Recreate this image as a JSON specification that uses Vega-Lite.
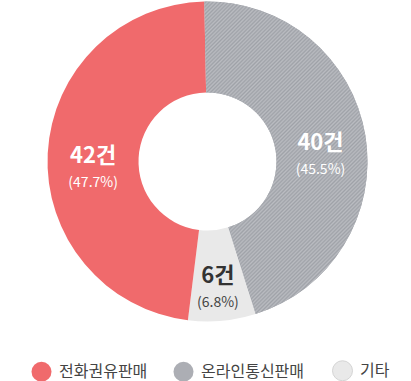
{
  "$schema": "https://vega.github.io/schema/vega-lite/v6.json",
  "width": 411,
  "height": 323,
  "padding": {"left": 2, "top": 0, "right": 0, "bottom": 0},
  "background": "white",
  "config": {"view": {"stroke": null}, "font": "Noto Sans CJK KR"},
  "data": {"values": [
    {"type": "온라인통신판매", "count": 40, "pct": "(45.5%)", "label": "40건", "ord": 1},
    {"type": "기타", "count": 6, "pct": "(6.8%)", "label": "6건", "ord": 2},
    {"type": "전화권유판매", "count": 42, "pct": "(47.7%)", "label": "42건", "ord": 3}
  ]},
  "encoding": {
    "theta": {"field": "count", "type": "quantitative", "stack": true, "scale": {"range": [-0.02, 6.2632]}},
    "order": {"field": "ord", "type": "quantitative"}
  },
  "layer": [
    {
      "mark": {"type": "arc", "outerRadius": 160, "innerRadius": 69},
      "encoding": {
        "color": {
          "field": "type", "type": "nominal",
          "scale": {"domain": ["전화권유판매", "온라인통신판매", "기타"], "range": ["#f06a6c", "#acaeb4", "#e9e9e9"]},
          "legend": {
            "title": null, "orient": "none", "direction": "horizontal",
            "legendX": 29, "legendY": 360,
            "symbolType": "circle", "symbolSize": 400,
            "labelFontSize": 16, "labelColor": "#444", "labelOffset": 7,
            "columnPadding": 25, "labelFont": "Noto Sans CJK KR",
            "encode": {"symbols": {"update": {
              "stroke": {"signal": "datum.value === '기타' ? '#d4d4d4' : null"},
              "strokeWidth": {"value": 1},
              "fill": [
                {"test": "datum.value === '온라인통신판매'", "value": {"gradient": "linear", "x1": 0, "y1": 0, "x2": 1, "y2": 1, "stops": [
                  {"offset":0.00,"color":"#babcc1"},{"offset":0.05,"color":"#9fa2a8"},{"offset":0.10,"color":"#babcc1"},{"offset":0.15,"color":"#9fa2a8"},{"offset":0.20,"color":"#babcc1"},{"offset":0.25,"color":"#9fa2a8"},{"offset":0.30,"color":"#babcc1"},{"offset":0.35,"color":"#9fa2a8"},{"offset":0.40,"color":"#babcc1"},{"offset":0.45,"color":"#9fa2a8"},{"offset":0.50,"color":"#babcc1"},{"offset":0.55,"color":"#9fa2a8"},{"offset":0.60,"color":"#babcc1"},{"offset":0.65,"color":"#9fa2a8"},{"offset":0.70,"color":"#babcc1"},{"offset":0.75,"color":"#9fa2a8"},{"offset":0.80,"color":"#babcc1"},{"offset":0.85,"color":"#9fa2a8"},{"offset":0.90,"color":"#babcc1"},{"offset":0.95,"color":"#9fa2a8"},{"offset":1.00,"color":"#babcc1"}
                ]}},
                {"scale": "color", "field": "value"}
              ]
            }}}
          }
        }
      }
    },
    {
      "mark": {"type": "arc", "outerRadius": 160, "innerRadius": 69},
      "encoding": {
        "fill": {
          "condition": {
            "test": "datum.type === '온라인통신판매'",
            "value": {
              "gradient": "linear", "x1": 0, "y1": 0, "x2": 0.6237, "y2": 1.196,
              "stops": [
{"offset":0.000,"color":"#babcc1"},{"offset":0.004,"color":"#9fa2a8"},{"offset":0.008,"color":"#babcc1"},{"offset":0.012,"color":"#9fa2a8"},{"offset":0.016,"color":"#babcc1"},{"offset":0.020,"color":"#9fa2a8"},{"offset":0.024,"color":"#babcc1"},{"offset":0.028,"color":"#9fa2a8"},{"offset":0.032,"color":"#babcc1"},{"offset":0.036,"color":"#9fa2a8"},
{"offset":0.040,"color":"#babcc1"},{"offset":0.044,"color":"#9fa2a8"},{"offset":0.048,"color":"#babcc1"},{"offset":0.052,"color":"#9fa2a8"},{"offset":0.056,"color":"#babcc1"},{"offset":0.060,"color":"#9fa2a8"},{"offset":0.064,"color":"#babcc1"},{"offset":0.068,"color":"#9fa2a8"},{"offset":0.072,"color":"#babcc1"},{"offset":0.076,"color":"#9fa2a8"},
{"offset":0.080,"color":"#babcc1"},{"offset":0.084,"color":"#9fa2a8"},{"offset":0.088,"color":"#babcc1"},{"offset":0.092,"color":"#9fa2a8"},{"offset":0.096,"color":"#babcc1"},{"offset":0.100,"color":"#9fa2a8"},{"offset":0.104,"color":"#babcc1"},{"offset":0.108,"color":"#9fa2a8"},{"offset":0.112,"color":"#babcc1"},{"offset":0.116,"color":"#9fa2a8"},
{"offset":0.120,"color":"#babcc1"},{"offset":0.124,"color":"#9fa2a8"},{"offset":0.128,"color":"#babcc1"},{"offset":0.132,"color":"#9fa2a8"},{"offset":0.136,"color":"#babcc1"},{"offset":0.140,"color":"#9fa2a8"},{"offset":0.144,"color":"#babcc1"},{"offset":0.148,"color":"#9fa2a8"},{"offset":0.152,"color":"#babcc1"},{"offset":0.156,"color":"#9fa2a8"},
{"offset":0.160,"color":"#babcc1"},{"offset":0.164,"color":"#9fa2a8"},{"offset":0.168,"color":"#babcc1"},{"offset":0.172,"color":"#9fa2a8"},{"offset":0.176,"color":"#babcc1"},{"offset":0.180,"color":"#9fa2a8"},{"offset":0.184,"color":"#babcc1"},{"offset":0.188,"color":"#9fa2a8"},{"offset":0.192,"color":"#babcc1"},{"offset":0.196,"color":"#9fa2a8"},
{"offset":0.200,"color":"#babcc1"},{"offset":0.204,"color":"#9fa2a8"},{"offset":0.208,"color":"#babcc1"},{"offset":0.212,"color":"#9fa2a8"},{"offset":0.216,"color":"#babcc1"},{"offset":0.220,"color":"#9fa2a8"},{"offset":0.224,"color":"#babcc1"},{"offset":0.228,"color":"#9fa2a8"},{"offset":0.232,"color":"#babcc1"},{"offset":0.236,"color":"#9fa2a8"},
{"offset":0.240,"color":"#babcc1"},{"offset":0.244,"color":"#9fa2a8"},{"offset":0.248,"color":"#babcc1"},{"offset":0.252,"color":"#9fa2a8"},{"offset":0.256,"color":"#babcc1"},{"offset":0.260,"color":"#9fa2a8"},{"offset":0.264,"color":"#babcc1"},{"offset":0.268,"color":"#9fa2a8"},{"offset":0.272,"color":"#babcc1"},{"offset":0.276,"color":"#9fa2a8"},
{"offset":0.280,"color":"#babcc1"},{"offset":0.284,"color":"#9fa2a8"},{"offset":0.288,"color":"#babcc1"},{"offset":0.292,"color":"#9fa2a8"},{"offset":0.296,"color":"#babcc1"},{"offset":0.300,"color":"#9fa2a8"},{"offset":0.304,"color":"#babcc1"},{"offset":0.308,"color":"#9fa2a8"},{"offset":0.312,"color":"#babcc1"},{"offset":0.316,"color":"#9fa2a8"},
{"offset":0.320,"color":"#babcc1"},{"offset":0.324,"color":"#9fa2a8"},{"offset":0.328,"color":"#babcc1"},{"offset":0.332,"color":"#9fa2a8"},{"offset":0.336,"color":"#babcc1"},{"offset":0.340,"color":"#9fa2a8"},{"offset":0.344,"color":"#babcc1"},{"offset":0.348,"color":"#9fa2a8"},{"offset":0.352,"color":"#babcc1"},{"offset":0.356,"color":"#9fa2a8"},
{"offset":0.360,"color":"#babcc1"},{"offset":0.364,"color":"#9fa2a8"},{"offset":0.368,"color":"#babcc1"},{"offset":0.372,"color":"#9fa2a8"},{"offset":0.376,"color":"#babcc1"},{"offset":0.380,"color":"#9fa2a8"},{"offset":0.384,"color":"#babcc1"},{"offset":0.388,"color":"#9fa2a8"},{"offset":0.392,"color":"#babcc1"},{"offset":0.396,"color":"#9fa2a8"},
{"offset":0.400,"color":"#babcc1"},{"offset":0.404,"color":"#9fa2a8"},{"offset":0.408,"color":"#babcc1"},{"offset":0.412,"color":"#9fa2a8"},{"offset":0.416,"color":"#babcc1"},{"offset":0.420,"color":"#9fa2a8"},{"offset":0.424,"color":"#babcc1"},{"offset":0.428,"color":"#9fa2a8"},{"offset":0.432,"color":"#babcc1"},{"offset":0.436,"color":"#9fa2a8"},
{"offset":0.440,"color":"#babcc1"},{"offset":0.444,"color":"#9fa2a8"},{"offset":0.448,"color":"#babcc1"},{"offset":0.452,"color":"#9fa2a8"},{"offset":0.456,"color":"#babcc1"},{"offset":0.460,"color":"#9fa2a8"},{"offset":0.464,"color":"#babcc1"},{"offset":0.468,"color":"#9fa2a8"},{"offset":0.472,"color":"#babcc1"},{"offset":0.476,"color":"#9fa2a8"},
{"offset":0.480,"color":"#babcc1"},{"offset":0.484,"color":"#9fa2a8"},{"offset":0.488,"color":"#babcc1"},{"offset":0.492,"color":"#9fa2a8"},{"offset":0.496,"color":"#babcc1"},{"offset":0.500,"color":"#9fa2a8"},{"offset":0.504,"color":"#babcc1"},{"offset":0.508,"color":"#9fa2a8"},{"offset":0.512,"color":"#babcc1"},{"offset":0.516,"color":"#9fa2a8"},
{"offset":0.520,"color":"#babcc1"},{"offset":0.524,"color":"#9fa2a8"},{"offset":0.528,"color":"#babcc1"},{"offset":0.532,"color":"#9fa2a8"},{"offset":0.536,"color":"#babcc1"},{"offset":0.540,"color":"#9fa2a8"},{"offset":0.544,"color":"#babcc1"},{"offset":0.548,"color":"#9fa2a8"},{"offset":0.552,"color":"#babcc1"},{"offset":0.556,"color":"#9fa2a8"},
{"offset":0.560,"color":"#babcc1"},{"offset":0.564,"color":"#9fa2a8"},{"offset":0.568,"color":"#babcc1"},{"offset":0.572,"color":"#9fa2a8"},{"offset":0.576,"color":"#babcc1"},{"offset":0.580,"color":"#9fa2a8"},{"offset":0.584,"color":"#babcc1"},{"offset":0.588,"color":"#9fa2a8"},{"offset":0.592,"color":"#babcc1"},{"offset":0.596,"color":"#9fa2a8"},
{"offset":0.600,"color":"#babcc1"},{"offset":0.604,"color":"#9fa2a8"},{"offset":0.608,"color":"#babcc1"},{"offset":0.612,"color":"#9fa2a8"},{"offset":0.616,"color":"#babcc1"},{"offset":0.620,"color":"#9fa2a8"},{"offset":0.624,"color":"#babcc1"},{"offset":0.628,"color":"#9fa2a8"},{"offset":0.632,"color":"#babcc1"},{"offset":0.636,"color":"#9fa2a8"},
{"offset":0.640,"color":"#babcc1"},{"offset":0.644,"color":"#9fa2a8"},{"offset":0.648,"color":"#babcc1"},{"offset":0.652,"color":"#9fa2a8"},{"offset":0.656,"color":"#babcc1"},{"offset":0.660,"color":"#9fa2a8"},{"offset":0.664,"color":"#babcc1"},{"offset":0.668,"color":"#9fa2a8"},{"offset":0.672,"color":"#babcc1"},{"offset":0.676,"color":"#9fa2a8"},
{"offset":0.680,"color":"#babcc1"},{"offset":0.684,"color":"#9fa2a8"},{"offset":0.688,"color":"#babcc1"},{"offset":0.692,"color":"#9fa2a8"},{"offset":0.696,"color":"#babcc1"},{"offset":0.700,"color":"#9fa2a8"},{"offset":0.704,"color":"#babcc1"},{"offset":0.708,"color":"#9fa2a8"},{"offset":0.712,"color":"#babcc1"},{"offset":0.716,"color":"#9fa2a8"},
{"offset":0.720,"color":"#babcc1"},{"offset":0.724,"color":"#9fa2a8"},{"offset":0.728,"color":"#babcc1"},{"offset":0.732,"color":"#9fa2a8"},{"offset":0.736,"color":"#babcc1"},{"offset":0.740,"color":"#9fa2a8"},{"offset":0.744,"color":"#babcc1"},{"offset":0.748,"color":"#9fa2a8"},{"offset":0.752,"color":"#babcc1"},{"offset":0.756,"color":"#9fa2a8"},
{"offset":0.760,"color":"#babcc1"},{"offset":0.764,"color":"#9fa2a8"},{"offset":0.768,"color":"#babcc1"},{"offset":0.772,"color":"#9fa2a8"},{"offset":0.776,"color":"#babcc1"},{"offset":0.780,"color":"#9fa2a8"},{"offset":0.784,"color":"#babcc1"},{"offset":0.788,"color":"#9fa2a8"},{"offset":0.792,"color":"#babcc1"},{"offset":0.796,"color":"#9fa2a8"},
{"offset":0.800,"color":"#babcc1"},{"offset":0.804,"color":"#9fa2a8"},{"offset":0.808,"color":"#babcc1"},{"offset":0.812,"color":"#9fa2a8"},{"offset":0.816,"color":"#babcc1"},{"offset":0.820,"color":"#9fa2a8"},{"offset":0.824,"color":"#babcc1"},{"offset":0.828,"color":"#9fa2a8"},{"offset":0.832,"color":"#babcc1"},{"offset":0.836,"color":"#9fa2a8"},
{"offset":0.840,"color":"#babcc1"},{"offset":0.844,"color":"#9fa2a8"},{"offset":0.848,"color":"#babcc1"},{"offset":0.852,"color":"#9fa2a8"},{"offset":0.856,"color":"#babcc1"},{"offset":0.860,"color":"#9fa2a8"},{"offset":0.864,"color":"#babcc1"},{"offset":0.868,"color":"#9fa2a8"},{"offset":0.872,"color":"#babcc1"},{"offset":0.876,"color":"#9fa2a8"},
{"offset":0.880,"color":"#babcc1"},{"offset":0.884,"color":"#9fa2a8"},{"offset":0.888,"color":"#babcc1"},{"offset":0.892,"color":"#9fa2a8"},{"offset":0.896,"color":"#babcc1"},{"offset":0.900,"color":"#9fa2a8"},{"offset":0.904,"color":"#babcc1"},{"offset":0.908,"color":"#9fa2a8"},{"offset":0.912,"color":"#babcc1"},{"offset":0.916,"color":"#9fa2a8"},
{"offset":0.920,"color":"#babcc1"},{"offset":0.924,"color":"#9fa2a8"},{"offset":0.928,"color":"#babcc1"},{"offset":0.932,"color":"#9fa2a8"},{"offset":0.936,"color":"#babcc1"},{"offset":0.940,"color":"#9fa2a8"},{"offset":0.944,"color":"#babcc1"},{"offset":0.948,"color":"#9fa2a8"},{"offset":0.952,"color":"#babcc1"},{"offset":0.956,"color":"#9fa2a8"},
{"offset":0.960,"color":"#babcc1"},{"offset":0.964,"color":"#9fa2a8"},{"offset":0.968,"color":"#babcc1"},{"offset":0.972,"color":"#9fa2a8"},{"offset":0.976,"color":"#babcc1"},{"offset":0.980,"color":"#9fa2a8"},{"offset":0.984,"color":"#babcc1"},{"offset":0.988,"color":"#9fa2a8"},{"offset":0.992,"color":"#babcc1"},{"offset":0.996,"color":"#9fa2a8"},
{"offset":1.000,"color":"#babcc1"}
              ]
            }
          },
          "value": "transparent"
        }
      }
    },
    {
      "mark": {"type": "text", "radius": 114.5, "fontSize": 22, "fontWeight": "bold", "baseline": "middle"},
      "encoding": {
        "text": {"field": "label"},
        "color": {"condition": {"test": "datum.type === '기타'", "value": "#333333"}, "value": "white"}
      }
    },
    {
      "mark": {"type": "text", "radius": 114.5, "fontSize": 14, "dy": 27, "baseline": "middle"},
      "encoding": {
        "text": {"field": "pct"},
        "color": {"condition": {"test": "datum.type === '기타'", "value": "#444444"}, "value": "white"}
      }
    }
  ]
}
